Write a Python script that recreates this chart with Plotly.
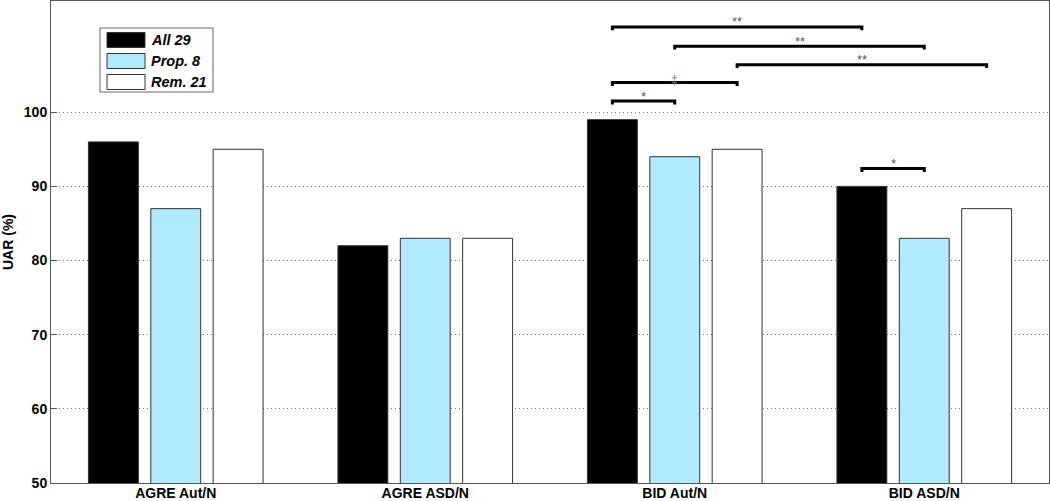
import plotly.graph_objects as go

categories = ["AGRE Aut/N", "AGRE ASD/N", "BID Aut/N", "BID ASD/N"]
series_names = ["All 29", "Prop. 8", "Rem. 21"]
all29 = [96, 82, 99, 90]
prop8 = [87, 83, 94, 83]
rem21 = [95, 83, 95, 87]
series_values = [all29, prop8, rem21]
series_colors = ["#000000", "#B0EAFC", "#FFFFFF"]
y_ticks = [50, 60, 70, 80, 90, 100]

# significance brackets: (category index, bar A, bar B, level in %, label)
sig_cat = [2, 2, 2, 2, 2, 3]
sig_bar_a = [0, 1, 2, 0, 0, 0]
sig_cat_b = [3, 3, 3, 2, 2, 3]
sig_bar_b = [0, 1, 2, 2, 1, 1]
sig_level = [111.5, 108.9, 106.4, 104.0, 101.5, 92.4]
sig_label = ["**", "**", "**", "‡", "*", "*"]

fig = go.Figure()
for name, vals, col in zip(series_names, series_values, series_colors):
    fig.add_trace(go.Bar(
        x=categories, y=vals, name=name, marker_color=col,
        marker_line_color="#333333", marker_line_width=1,
        base=0, showlegend=False,
    ))

slot = 0.25
tick_h = 0.45
for ca, ba, cb, bb, lv, lab in zip(sig_cat, sig_bar_a, sig_cat_b, sig_bar_b, sig_level, sig_label):
    xa = ca + (ba - 1) * slot
    xb = cb + (bb - 1) * slot
    fig.add_shape(type="path", xref="x", yref="y",
                  path=f"M {xa} {lv - tick_h} L {xa} {lv} L {xb} {lv} L {xb} {lv - tick_h}",
                  line=dict(color="#000000", width=3))
    is_dag = lab == "‡"
    fig.add_annotation(x=(xa + xb) / 2, y=lv, xref="x", yref="y", text=lab,
                       showarrow=False, yanchor="middle", yshift=3 if is_dag else 5,
                       font=dict(family="Liberation Sans", size=12 if is_dag else 13,
                                 color="#6688AA" if is_dag else "#555566"))

# legend drawn in paper coordinates
W, H = 1050, 501
ml, mr, mt, mb = 51, 1, 1, 18
pw, ph = W - ml - mr, H - mt - mb
def px(x):
    return (x - ml) / pw
def py(y):
    return 1 - (y - mt) / ph

fig.add_shape(type="rect", xref="paper", yref="paper",
              x0=px(100), x1=px(213), y0=py(28), y1=py(92),
              line=dict(color="#666666", width=1), fillcolor="#FFFFFF")
row_y = [40, 61, 82]
for i, (name, col) in enumerate(zip(series_names, series_colors)):
    yc = row_y[i]
    fig.add_shape(type="rect", xref="paper", yref="paper",
                  x0=px(107), x1=px(145), y0=py(yc - 7.5), y1=py(yc + 7.5),
                  line=dict(color="#333333", width=1), fillcolor=col)
    fig.add_annotation(x=px(149), y=py(yc), xref="paper", yref="paper",
                       text=f"<b><i>{name}</i></b>", showarrow=False,
                       xanchor="left", yanchor="middle",
                       font=dict(family="Liberation Sans", size=14.5, color="#000000"))

fig.update_layout(
    width=W, height=H,
    margin=dict(l=ml, r=mr, t=mt, b=mb, autoexpand=False),
    paper_bgcolor="#FFFFFF", plot_bgcolor="#FFFFFF",
    barmode="group", bargap=0.25, bargroupgap=0.2,
    font=dict(family="Liberation Sans", color="#000000"),
)
fig.update_xaxes(
    type="category", range=[-0.5, 3.5], automargin=False,
    showline=True, linecolor="#555555", linewidth=1, mirror=True,
    showgrid=False, ticks="",
    tickfont=dict(family="Liberation Sans", size=14, weight="bold"),
    ticklabelstandoff=-3,
)
fig.update_yaxes(
    range=[50, 115], tickvals=y_ticks, automargin=False,
    showline=True, linecolor="#555555", linewidth=1, mirror=True,
    showgrid=True, gridcolor="#777777", griddash="1px,3px", gridwidth=1,
    ticks="inside", ticklen=6, tickcolor="#555555",
    tickfont=dict(family="Liberation Sans", size=14, weight="bold"),
    title=dict(text="<b>UAR (%)</b>", font=dict(family="Liberation Sans", size=14), standoff=6),
    zeroline=False,
)

fig.write_html("out.html", config={"displayModeBar": False},
               post_script="document.body.style.margin='0';document.body.style.overflow='hidden';")
